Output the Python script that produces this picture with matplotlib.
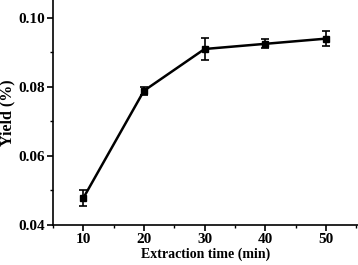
import numpy as np
import matplotlib
matplotlib.use("Agg")
import matplotlib.pyplot as plt
from matplotlib.ticker import MultipleLocator, FormatStrFormatter

# data
time_min = [10, 20, 30, 40, 50]
yield_pct = [0.0478, 0.0789, 0.0910, 0.0925, 0.0940]
yield_err = [0.0023, 0.0012, 0.0032, 0.0013, 0.0022]

plt.rcParams['font.family'] = ['Liberation Serif', 'DejaVu Serif']
plt.rcParams['font.weight'] = 'bold'

fig = plt.figure(figsize=(3.58, 2.65), dpi=100)
ax = fig.add_axes([0.148, 0.151, 0.852, 0.849])

ax.errorbar(time_min, yield_pct, yerr=yield_err, color='black', lw=1.8,
            marker='s', ms=4.5, capsize=2.7, capthick=1.2, elinewidth=1.2)

ax.set_xlim(5, 55.3)
ax.set_ylim(0.04, 0.1052)
ax.xaxis.set_major_locator(MultipleLocator(10))
ax.xaxis.set_minor_locator(MultipleLocator(5))
ax.yaxis.set_major_locator(MultipleLocator(0.02))
ax.yaxis.set_minor_locator(MultipleLocator(0.01))
ax.set_xticks([10, 20, 30, 40, 50])

for s in ['top', 'right']:
    ax.spines[s].set_visible(False)
for s in ['left', 'bottom']:
    ax.spines[s].set_linewidth(1.2)

ax.tick_params(which='major', direction='out', length=4, width=1.2, labelsize=11, pad=2)
ax.tick_params(which='minor', direction='out', length=2.5, width=1.0)
ax.yaxis.set_major_formatter(FormatStrFormatter('%.2f'))

ax.set_xlabel('Extraction time (min)', fontsize=10, fontweight='bold')
ax.set_ylabel('Yield (%)', fontsize=11.5, fontweight='bold')
ax.xaxis.set_label_coords(0.5, -0.102)
ax.yaxis.set_label_coords(-0.122, 0.5)

fig.savefig('out.png', dpi=100)
